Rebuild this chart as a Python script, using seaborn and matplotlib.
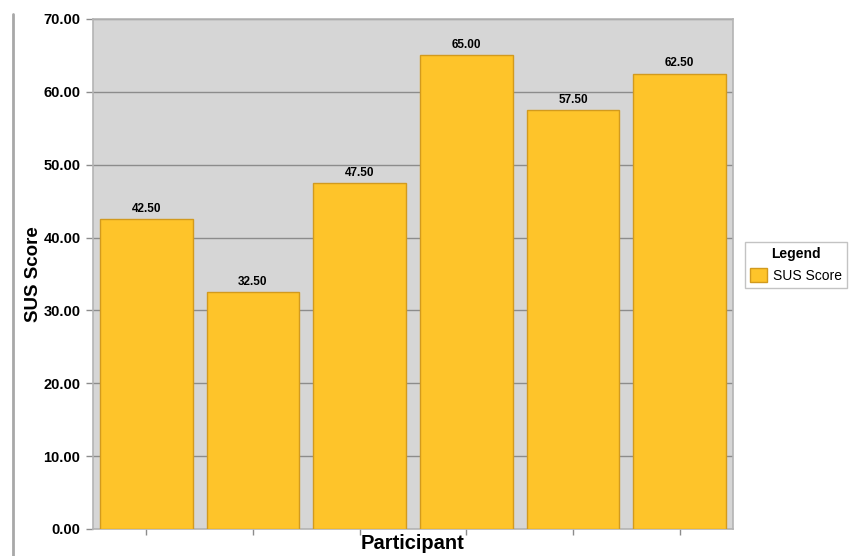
import matplotlib
matplotlib.use("Agg")
import matplotlib.pyplot as plt
import matplotlib.patches as mpatches
import seaborn as sns
import pandas as pd

participants = ["P1", "P2", "P3", "P4", "P5", "P6"]
sus_scores = [42.50, 32.50, 47.50, 65.00, 57.50, 62.50]
y_ticks = [0, 10, 20, 30, 40, 50, 60, 70]

df = pd.DataFrame({"Participant": participants, "SUS Score": sus_scores})

sns.set_theme(style="white")
plt.rcParams["font.family"] = ["Liberation Sans", "DejaVu Sans"]
plt.rcParams["text.color"] = "black"
plt.rcParams["axes.labelcolor"] = "black"
plt.rcParams["xtick.color"] = "#8C8C8C"
plt.rcParams["ytick.color"] = "#8C8C8C"

bar_color = "#FEC42A"
edge_color = "#D29A1E"

fig = plt.figure(figsize=(8.54, 5.56), dpi=100)
ax = fig.add_axes([93 / 854, 1 - 529 / 556, 640 / 854, 510 / 556])
ax.set_facecolor("#D6D6D6")

sns.barplot(data=df, x="Participant", y="SUS Score", color=bar_color,
            width=0.87, edgecolor=edge_color, linewidth=1.0,
            saturation=1, ax=ax, zorder=3)

ax.set_ylim(0, 70)
ax.set_xlim(-0.5, len(participants) - 0.5)
ax.set_yticks(y_ticks)
ax.set_yticklabels([f"{t:.2f}" for t in y_ticks], fontsize=10.5,
                   fontweight="bold", color="black")
ax.set_xticks(range(len(participants)))
ax.set_xticklabels([""] * len(participants))
ax.yaxis.grid(True, color="#8C8C8C", linewidth=1.0, zorder=1)
ax.set_axisbelow(True)
ax.tick_params(axis="y", left=True, length=5, width=1, pad=4)
ax.tick_params(axis="x", bottom=True, length=4, width=1, direction="out")
for s in ax.spines.values():
    s.set_color("#B4B4B4")
    s.set_linewidth(1.2)

ax.set_xlabel("Participant", fontsize=14.5, fontweight="bold")
ax.xaxis.set_label_coords(0.5, -0.010)
ax.set_ylabel("SUS Score", fontsize=13.5, fontweight="bold")
ax.yaxis.set_label_coords(-0.080, 0.5)

for i, v in enumerate(sus_scores):
    ax.annotate(f"{v:.2f}", (i, v), xytext=(0, 3), textcoords="offset points",
                ha="center", va="bottom", fontsize=8.5, fontweight="bold",
                color="black")

handle = mpatches.Patch(facecolor=bar_color, edgecolor=edge_color, label="SUS Score")
leg = fig.legend(handles=[handle], title="Legend", loc="center left",
                 bbox_to_anchor=(745 / 854, 1 - 265 / 556), frameon=True,
                 fancybox=False, edgecolor="#B4B4B4", fontsize=10,
                 title_fontproperties={"weight": "bold", "size": 10},
                 handlelength=1.2, handleheight=1.2, borderpad=0.35,
                 handletextpad=0.5, borderaxespad=0)
leg.get_frame().set_linewidth(1.0)

fig.add_artist(plt.Line2D([13 / 854, 13 / 854], [0, 1 - 14 / 556],
                          color="#A8A8A8", linewidth=2))

fig.savefig("out.png", dpi=100)
